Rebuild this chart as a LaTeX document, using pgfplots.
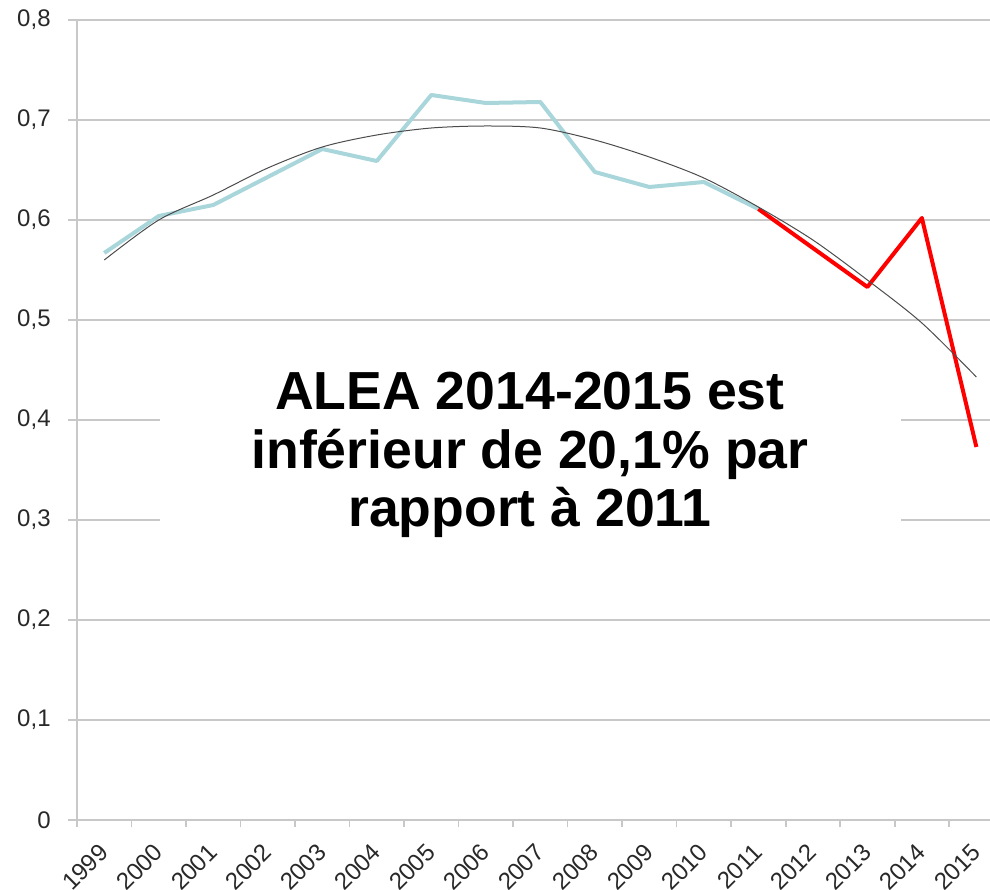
\documentclass[border=0pt]{standalone}
\usepackage{pgfplots}
\pgfplotsset{compat=1.18}
\usepackage{fontspec}
\setmainfont{Liberation Sans}
\definecolor{lblue}{RGB}{168,214,219}
\definecolor{gridgray}{RGB}{200,200,200}
\definecolor{ticktext}{RGB}{40,40,40}
\begin{document}
\begin{tikzpicture}
\begin{axis}[
  scale only axis, width=456.5pt, height=400pt,
  xmin=-0.5, xmax=16.25, ymin=0, ymax=0.8,
  axis lines=left,
  axis line style={-, gridgray, line width=1pt},
  ytick={0,0.1,0.2,0.3,0.4,0.5,0.6,0.7,0.8},
  ymajorgrids,
  major grid style={gridgray, line width=0.9pt},
  tick align=outside,
  major tick length=4.5pt, minor tick length=3.5pt,
  ytick style={gridgray, line width=0.9pt},
  xtick={0,1,2,3,4,5,6,7,8,9,10,11,12,13,14,15,16},
  xticklabels={1999,2000,2001,2002,2003,2004,2005,2006,2007,2008,2009,2010,2011,2012,2013,2014,2015},
  major x tick style={draw=none},
  minor xtick={-0.5,0.5,1.5,2.5,3.5,4.5,5.5,6.5,7.5,8.5,9.5,10.5,11.5,12.5,13.5,14.5,15.5},
  minor x tick style={gridgray, line width=0.9pt},
  /pgf/number format/assume math mode=true,
  /pgf/number format/use comma,
  /pgf/number format/fixed,
  /pgf/number format/precision=1,
  yticklabel style={font=\fontsize{12}{14}\selectfont, color=ticktext, anchor=east, inner sep=0pt, xshift=-8.5pt},
  xticklabel style={font=\fontsize{12}{14}\selectfont, color=ticktext, inner sep=0pt, yshift=-9.5pt, rotate=45, anchor=east},
]
\fill[white] (axis cs:1.02,0.26) rectangle (axis cs:14.62,0.49);
\addplot[lblue, line width=2pt, line join=round] coordinates {
 (0,0.567) (1,0.604) (2,0.615) (3,0.643) (4,0.671) (5,0.659) (6,0.725)
 (7,0.717) (8,0.718) (9,0.648) (10,0.633) (11,0.638) (12,0.611)};
\addplot[red, line width=2pt, line join=round] coordinates {
 (12,0.611) (13,0.572) (14,0.533) (15,0.602) (16,0.373)};
\addplot[black!70, line width=0.5pt, smooth] coordinates {
 (0,0.560) (1,0.600) (2,0.625) (3,0.652) (4,0.673) (5,0.685) (6,0.692)
 (7,0.694) (8,0.692) (9,0.680) (10,0.663) (11,0.642) (12,0.613)
 (13,0.580) (14,0.540) (15,0.497) (16,0.443)};
\node[font=\bfseries\fontsize{26.8}{29.25}\selectfont, align=center, inner sep=0pt] at (axis cs:7.81,0.365)
 {ALEA 2014-2015 est\\inférieur de 20,1\% par\\rapport à 2011};
\end{axis}
\pgfresetboundingbox
\path (-38.5pt,-34.5pt) rectangle (456.5pt,410pt);
\end{tikzpicture}
\end{document}
